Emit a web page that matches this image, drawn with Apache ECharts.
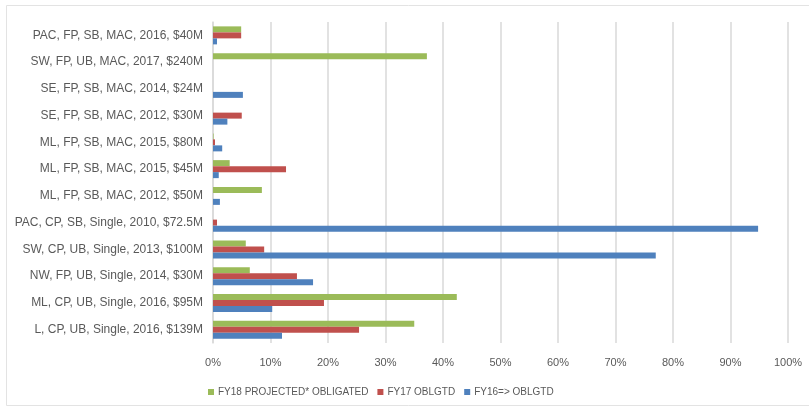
<!DOCTYPE html>
<html>
<head>
<meta charset="utf-8">
<script src="https://cdn.jsdelivr.net/npm/echarts@6/dist/echarts.min.js"></script>
<style>
html,body{margin:0;padding:0;background:#fff;}
#chart{width:809px;height:411px;}
</style>
</head>
<body>
<div id="chart"></div>
<script>
// Categories listed bottom to top (ECharts category y axis starts at bottom)
var categories = [
  'L, CP, UB, Single, 2016, $139M',
  'ML, CP, UB, Single, 2016, $95M',
  'NW, FP, UB, Single, 2014, $30M',
  'SW, CP, UB, Single, 2013, $100M',
  'PAC, CP, SB, Single, 2010, $72.5M',
  'ML, FP, SB, MAC, 2012, $50M',
  'ML, FP, SB, MAC, 2015, $45M',
  'ML, FP, SB, MAC, 2015, $80M',
  'SE, FP, SB, MAC, 2012, $30M',
  'SE, FP, SB, MAC, 2014, $24M',
  'SW, FP, UB, MAC, 2017, $240M',
  'PAC, FP, SB, MAC, 2016, $40M'
];
var fy18 = [35.0, 42.4, 6.4, 5.7, 0, 8.5, 2.9, 0.1, 0, 0, 37.2, 4.9];
var fy17 = [25.4, 19.3, 14.6, 8.9, 0.7, 0, 12.7, 0.35, 5.0, 0, 0, 4.9];
var fy16 = [12.0, 10.3, 17.4, 77.0, 94.8, 1.2, 1.0, 1.6, 2.5, 5.2, 0, 0.7];
var xTicks = [0, 10, 20, 30, 40, 50, 60, 70, 80, 90, 100];

var seriesNames = ['FY18 PROJECTED* OBLIGATED', 'FY17 OBLGTD', 'FY16=> OBLGTD'];
var colors = ['#9BBB59', '#C0504D', '#4F81BD'];
var font = 'Liberation Sans';
var txt = '#595959';

var chart = echarts.init(document.getElementById('chart'), null, {renderer: 'canvas'});
chart.setOption({
  animation: false,
  color: colors,
  textStyle: {fontFamily: font},
  graphic: [{
    type: 'rect', silent: true, z: -1,
    shape: {x: 6.5, y: 5.5, width: 812, height: 400},
    style: {fill: 'none', stroke: '#e3e3e3', lineWidth: 1}
  }],
  legend: {
    bottom: 9, left: 203,
    itemWidth: 6, itemHeight: 6, itemGap: 9,
    icon: 'rect',
    textStyle: {color: txt, fontSize: 10, fontFamily: font, padding: [0, 0, 0, -1]},
    data: seriesNames
  },
  grid: {left: 213, right: 21, top: 22, bottom: 68, containLabel: false},
  xAxis: {
    type: 'value', min: xTicks[0], max: xTicks[xTicks.length - 1], interval: 10,
    axisLine: {show: false}, axisTick: {show: false},
    axisLabel: {formatter: '{value}%', color: txt, fontSize: 11, margin: 14},
    splitLine: {lineStyle: {color: '#d9d9d9', width: 1.5}}
  },
  yAxis: {
    type: 'category', data: categories,
    axisLine: {lineStyle: {color: '#d9d9d9', width: 1.5}},
    axisTick: {show: false},
    axisLabel: {color: txt, fontSize: 12, margin: 10}
  },
  series: [
    {name: seriesNames[0], type: 'bar', data: fy18, barWidth: 6, barGap: '0%'},
    {name: seriesNames[1], type: 'bar', data: fy17, barWidth: 6, barGap: '0%'},
    {name: seriesNames[2], type: 'bar', data: fy16, barWidth: 6, barGap: '0%'}
  ]
});
</script>
</body>
</html>
